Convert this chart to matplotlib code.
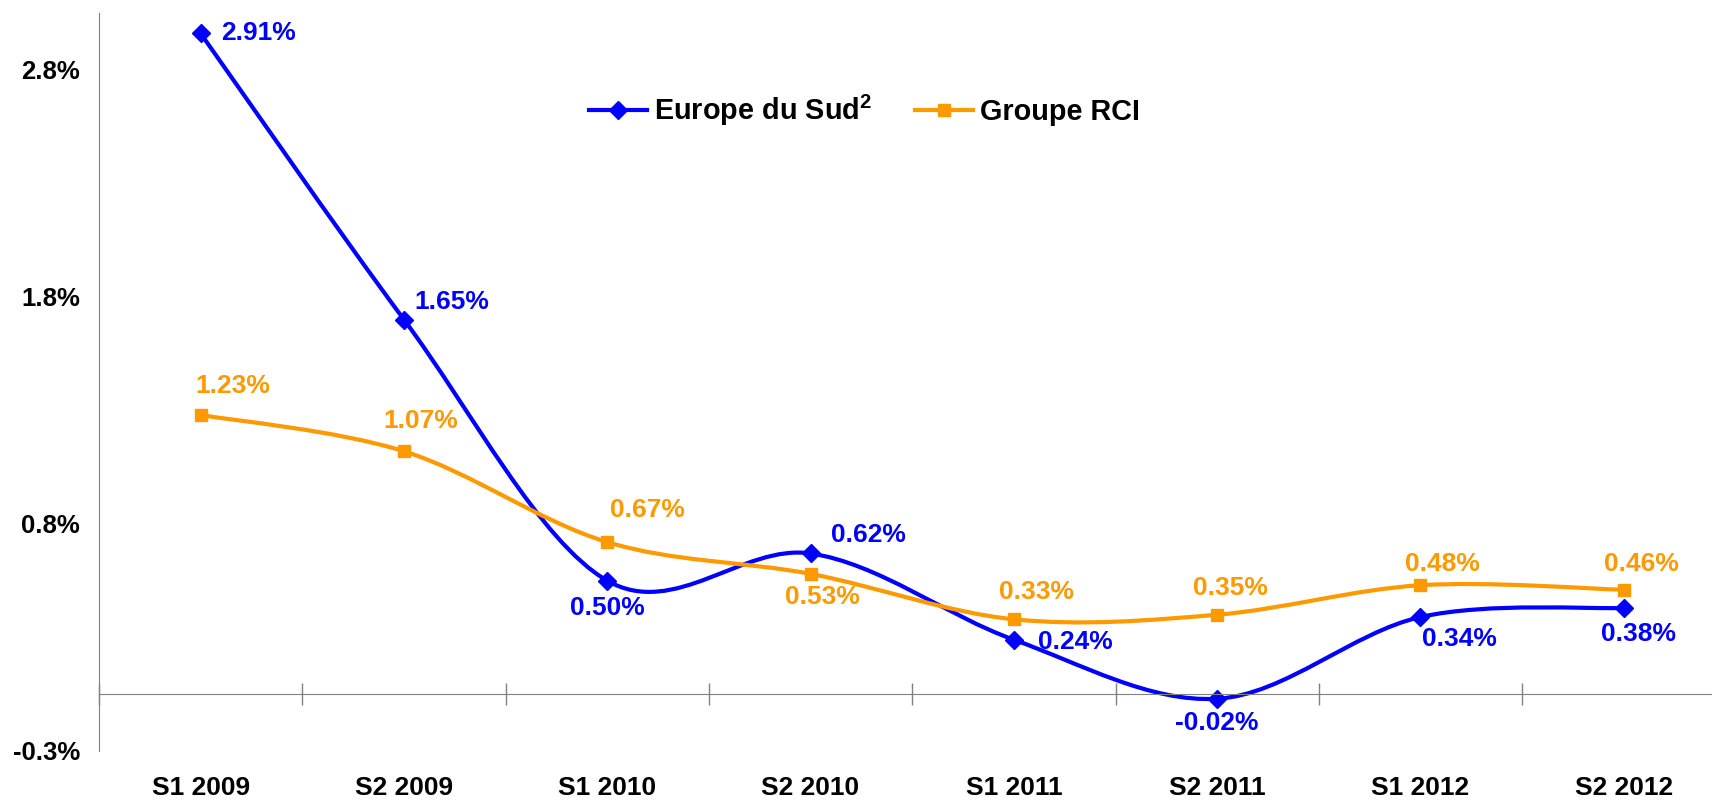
import numpy as np
import matplotlib.pyplot as plt
from matplotlib.path import Path
from matplotlib.patches import PathPatch
from matplotlib.lines import Line2D
from matplotlib.transforms import blended_transform_factory

# donnees
categories = ["S1 2009", "S2 2009", "S1 2010", "S2 2010",
              "S1 2011", "S2 2011", "S1 2012", "S2 2012"]
europe_sud = [2.91, 1.65, 0.50, 0.62, 0.24, -0.02, 0.34, 0.38]
groupe_rci = [1.23, 1.07, 0.67, 0.53, 0.33, 0.35, 0.48, 0.46]
ytick_vals = [-0.25, 0.75, 1.75, 2.75]
ytick_labels = ["-0.3%", "0.8%", "1.8%", "2.8%"]

BLUE = "#0000FF"
ORANGE = "#FF9900"
plt.rcParams['font.family'] = ['Liberation Sans', 'DejaVu Sans']
plt.rcParams['font.weight'] = 'bold'
plt.rcParams['mathtext.fontset'] = 'custom'
plt.rcParams['mathtext.rm'] = 'Liberation Sans:bold'
plt.rcParams['mathtext.bf'] = 'Liberation Sans:bold'

# decalage des etiquettes (pixels) et alignement
blue_off = [(20, 0, 'left'), (10, 18, 'left'), (0, -27, 'center'), (20, 18, 'left'),
            (24, -2, 'left'), (0, -24, 'center'), (2, -22, 'left'), (15, -26, 'center')]
orange_off = [(32, 29, 'center'), (17, 30, 'center'), (40, 32, 'center'), (12, -23, 'center'),
              (23, 27, 'center'), (13, 27, 'center'), (22, 21, 'center'), (18, 26, 'center')]


def smooth_path(x, y):
    # courbe lissee type Excel (Catmull-Rom -> Bezier)
    p = np.column_stack([x, y]).astype(float)
    verts = [p[0]]
    codes = [Path.MOVETO]
    n = len(p)
    for i in range(n - 1):
        p0 = p[i - 1] if i > 0 else p[i]
        p3 = p[i + 2] if i + 2 < n else p[i + 1]
        c1 = p[i] + (p[i + 1] - p0) / 6
        c2 = p[i + 1] - (p3 - p[i]) / 6
        verts += [c1, c2, p[i + 1]]
        codes += [Path.CURVE4] * 3
    return Path(verts, codes)


fig = plt.figure(figsize=(17.12, 8.02), dpi=100)
ax = fig.add_axes([99/1712, 51/802, 1613/1712, 738/802])
x = np.arange(len(categories))

for vals, col, mk, ms, offs in [(europe_sud, BLUE, 'D', 9.5, blue_off),
                                (groupe_rci, ORANGE, 's', 8.5, orange_off)]:
    ax.add_patch(PathPatch(smooth_path(x, vals), fill=False, edgecolor=col, lw=3,
                           capstyle='round', joinstyle='round'))
    ax.plot(x, vals, ls='none', marker=mk, ms=ms, color=col)
    for xi, v, (dx, dy, ha) in zip(x, vals, offs):
        ax.annotate("%.2f%%" % v, (xi, v), xytext=(dx, dy), textcoords='offset pixels',
                    ha=ha, va='center', color=col, fontsize=19, fontweight='bold')

ax.set_xlim(-0.5, 7.434)
ax.set_ylim(-0.25, 3.0)

for s in ['top', 'right']:
    ax.spines[s].set_visible(False)
ax.spines['left'].set_color('#808080')
ax.spines['bottom'].set_color('#808080')
ax.spines['bottom'].set_position(('data', 0))

ax.set_xticks(np.arange(-0.5, 7.5, 1.0))
ax.set_xticklabels([])
ax.tick_params(axis='x', direction='inout', length=16, color='#808080', width=1)
ax.set_yticks(ytick_vals)
ax.set_yticklabels(ytick_labels, fontsize=18.5, fontweight='bold')
ax.tick_params(axis='y', length=0, pad=13.5)

trans = blended_transform_factory(ax.transData, ax.transAxes)
for xi, c in zip(x, categories):
    ax.text(xi, -0.05, c, transform=trans, ha='center', va='center',
            fontsize=19, fontweight='bold')

handles = [Line2D([], [], color=BLUE, lw=3, marker='D', ms=9),
           Line2D([], [], color=ORANGE, lw=3, marker='s', ms=8.5)]
fig.legend(handles, [r"Europe du Sud$^\mathbf{2}$", "Groupe RCI"], loc='center',
           bbox_to_anchor=(0.505, 0.862), ncol=2, frameon=False, fontsize=20.8,
           handlelength=2.0, handletextpad=0.25, columnspacing=1.5)

fig.savefig("out.png", dpi=100)
